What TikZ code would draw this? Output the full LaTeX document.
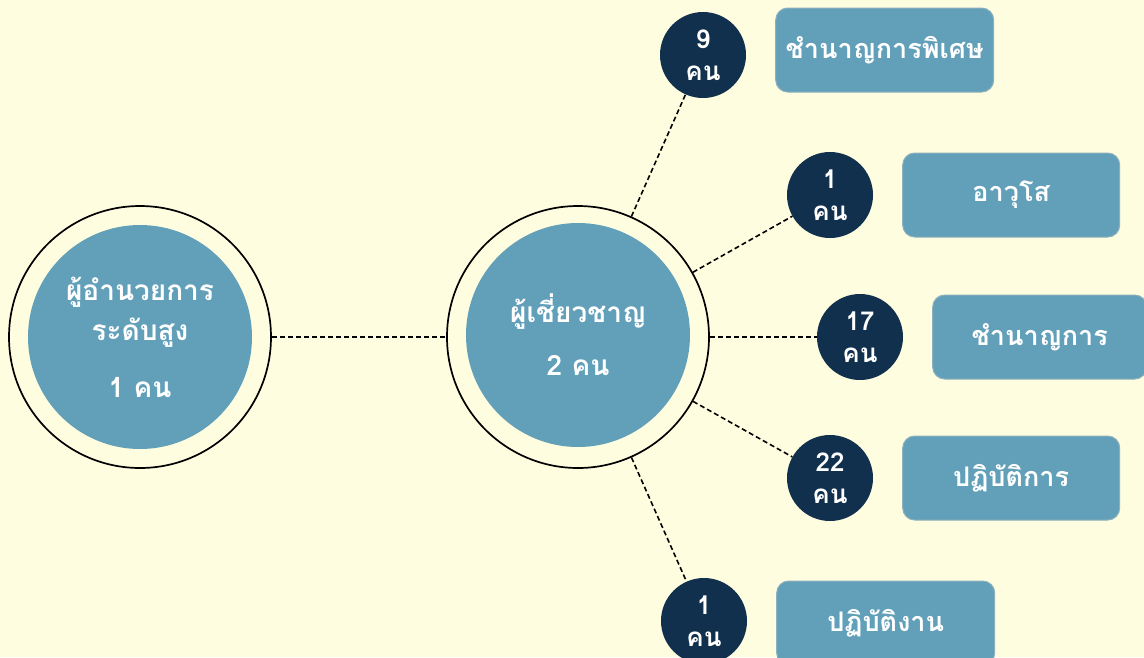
\documentclass[tikz,border=0pt]{standalone}
\usepackage{fontspec}
\setmainfont[Script=Thai]{Loma}
\usetikzlibrary{positioning}
\definecolor{bgcream}{HTML}{FEFDE0}
\definecolor{steelblue}{HTML}{62A0BA}
\definecolor{navyblue}{HTML}{10304D}
\definecolor{boxline}{HTML}{8DB0BC}
\tikzset{
	outerring/.style={circle,draw=black,line width=1.7pt,minimum size=262pt,inner sep=0pt},
	corecircle/.style={circle,fill=steelblue,minimum size=224pt,inner sep=0pt,text=white,align=center,font=\bfseries\fontsize{28}{32}\selectfont},
	headcount/.style={circle,fill=navyblue,minimum size=86pt,inner sep=0pt,text=white,align=center,font=\bfseries\fontsize{26}{30}\selectfont},
	rankbox/.style={rectangle,rounded corners=12pt,fill=steelblue,draw=boxline,line width=1pt,minimum width=218pt,minimum height=84pt,anchor=west,text=white,font=\bfseries\fontsize{27}{31}\selectfont},
	dashlink/.style={line width=1.6pt,dash pattern=on 5pt off 3pt}
}
\begin{document}
\begin{tikzpicture}[x=1pt,y=-1pt]
	\useasboundingbox (0,0) rectangle (1144,657);
	\clip (0,0) rectangle (1144,657);
	\fill[bgcream] (0,0) rectangle (1144,657);

	\node[outerring] (leftring) at (140,337) {};
	\node[corecircle] (left) at (140,337) {ผู้อำนวยการ\\[8pt]ระดับสูง\\[25pt]1 คน};
	\node[outerring] (midring) at (578,337) {};
	\node[corecircle] (mid) at (578,335) {ผู้เชี่ยวชาญ\\[21pt]2 คน};

	\node[headcount] (c9) at (703,55) {9\\[2pt]คน};
	\node[headcount] (c1a) at (830,195) {1\\[2pt]คน};
	\node[headcount] (c17) at (860,337) {17\\[2pt]คน};
	\node[headcount] (c22) at (830,478) {22\\[2pt]คน};
	\node[headcount] (c1b) at (704,621) {1\\[2pt]คน};

	\node[rankbox,right=29pt of c9,yshift=5pt] (r9) {ชำนาญการพิเศษ};
	\node[rankbox,right=29pt of c1a,minimum width=217pt] (r1a) {อาวุโส};
	\node[rankbox,right=29pt of c17,minimum width=214pt] (r17) {ชำนาญการ};
	\node[rankbox,right=29pt of c22,minimum width=217pt] (r22) {ปฏิบัติการ};
	\node[rankbox,right=29pt of c1b,yshift=-2pt] (r1b) {ปฏิบัติงาน};

	\draw[dashlink] (leftring) -- (midring);
	\draw[dashlink] (midring) -- (c9);
	\draw[dashlink] (midring) -- (c1a);
	\draw[dashlink] (midring) -- (c17);
	\draw[dashlink] (midring) -- (c22);
	\draw[dashlink] (midring) -- (c1b);
\end{tikzpicture}
\end{document}
